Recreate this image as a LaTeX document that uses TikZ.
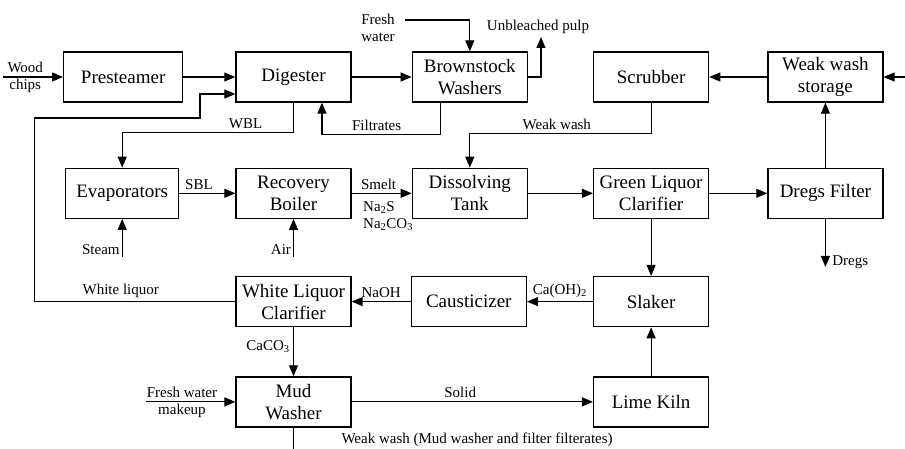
\documentclass[tikz,border=0pt]{standalone}
\usepackage{fontspec}
\setmainfont{Liberation Serif}
\usetikzlibrary{arrows.meta, positioning}

\begin{document}
\begin{tikzpicture}[
    x=1pt, y=-1pt,
    unit/.style={rectangle, draw, line width=1.3pt, minimum width=115pt, minimum height=50pt, inner xsep=2pt, align=center, font=\fontsize{19}{22}\selectfont},
    flow/.style={-{Triangle[length=11pt, width=9pt]}, line width=1.1pt},
    lbl/.style={font=\fontsize{15}{17}\selectfont}
]
\useasboundingbox (0,0) rectangle (905,449);

% Nodes
\node[unit] (dig) at (293.5,77) {Digester};
\node[unit, left=52pt of dig, minimum width=119pt] (pre) {Presteamer};
\node[unit, right=60pt of dig] (bsw) {Brownstock\\Washers};
\node[unit, right=65pt of bsw] (scr) {Scrubber};
\node[unit, right=58pt of scr] (wws) {Weak wash\\storage};
\node[unit, below=65pt of dig] (rb) {Recovery\\Boiler};
\node[unit, left=56pt of rb, minimum width=113pt] (evap) {Evaporators};
\node[unit, below=65pt of bsw] (dis) {Dissolving\\Tank};
\node[unit, below=65pt of scr] (glc) {Green Liquor\\Clarifier};
\node[unit, below=65pt of wws] (dreg) {Dregs Filter};
\node[unit, below=57pt of rb] (wlc) {White Liquor\\Clarifier};
\node[unit, right=59pt of wlc] (caus) {Causticizer};
\node[unit, below=57pt of glc] (slak) {Slaker};
\node[unit, below=49pt of wlc] (mud) {Mud\\Washer};
\node[unit, below=49pt of slak] (kiln) {Lime Kiln};

% Free ends
\coordinate[left=60pt of pre] (wood);
\coordinate[right=26pt of wws] (wwin);
\coordinate (fw) at (405,20);
\coordinate (pulp) at (541,37);
\coordinate[below=38pt of evap] (steam);
\coordinate[below=38pt of rb] (air);
\coordinate[below=48pt of dreg] (dregs);
\coordinate[left=89pt of mud] (fwm);
\coordinate[below=26pt of mud] (mudout);

% Arrows
\draw[flow] (wood) -- node[lbl, pos=0.37, align=center] (woodl) {Wood\\chips} (pre);
\draw[flow] (pre) -- (dig);
\draw[flow] (dig) -- (bsw);
\draw[flow] (fw) -| (bsw);
\node[lbl, align=center] (fwl) at (378,28) {Fresh\\water};
\draw[flow] (bsw) -| (pulp);
\node[lbl] (pulpl) at (538,27) {Unbleached pulp};
\draw[flow] ([xshift=-29pt]bsw.south) -- ++(0,32) -| node[lbl, pos=0.27, above] (filtl) {Filtrates} ([xshift=28.5pt]dig.south);
\draw[flow] (dig.south) -- ++(0,30) -| node[lbl, pos=0.14, above] (wbll) {WBL} (evap);
\draw[flow] (wlc.west) -- node[lbl, pos=0.57, above] (wliql) {White liquor} ++(-201,0) |- (200,118) |- ([yshift=-17pt]dig.west);
\draw[flow] (scr.south) -- ++(0,31) -| node[lbl, pos=0.26, above] (wwl) {Weak wash} (dis);
\draw[flow] (wwin) -- (wws);
\draw[flow] (wws) -- (scr);
\draw[flow] (dreg) -- (wws);
\draw[flow] (steam) -- node[lbl, at start, anchor=south east, inner sep=2pt] (steaml) {Steam} (evap);
\draw[flow] (air) -- node[lbl, at start, anchor=south east, inner sep=2pt] (airl) {Air} (rb);
\draw[flow] (evap) -- node[lbl, pos=0.35, above] (sbll) {SBL} (rb);
\draw[flow] (rb) -- node[lbl, pos=0.45, above] (smeltl) {Smelt} (dis);
\node[lbl, align=left, anchor=north west] (nal) at ([xshift=8pt,yshift=-5pt]rb.east) {Na\textsubscript{2}S\\Na\textsubscript{2}CO\textsubscript{3}};
\draw[flow] (dis) -- (glc);
\draw[flow] (glc) -- (dreg);
\draw[flow] (glc) -- (slak);
\draw[flow] (dreg) -- (dregs) node[lbl, right, xshift=3pt, yshift=5pt] (dregsl) {Dregs};
\draw[flow] (slak) -- node[lbl, above] (caohl) {Ca(OH)\textsubscript{2}} (caus);
\draw[flow] (caus) -- node[lbl, above] (naohl) {NaOH} (wlc);
\draw[flow] (wlc) -- node[lbl, pos=0.4, left] (caco3l) {CaCO\textsubscript{3}} (mud);
\draw[flow] (fwm) -- node[lbl, pos=0.4, align=center] (fwml) {Fresh water\\makeup} (mud);
\draw[flow] (mud) -- node[lbl, pos=0.45, above] (solidl) {Solid} (kiln);
\draw[flow] (kiln) -- (slak);
\draw[line width=1.1pt] (mud) -- (mudout);
\node[lbl, anchor=west] (wwml) at (338,440) {Weak wash (Mud washer and filter filterates)};

\end{tikzpicture}
\end{document}
